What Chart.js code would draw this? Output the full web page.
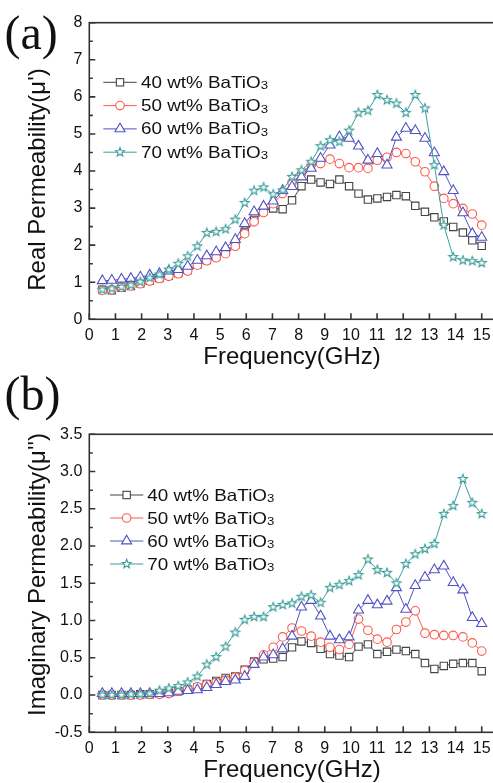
<!DOCTYPE html>
<html>
<head>
<meta charset="utf-8">
<script src="https://cdn.jsdelivr.net/npm/chart.js@4"></script>
<style>
html,body{margin:0;padding:0;background:#fff;}
body{width:493px;height:783px;overflow:hidden;position:relative;}
canvas{position:absolute;left:0;}
#overlay{position:absolute;left:0;top:0;width:493px;height:783px;pointer-events:none;}
</style>
</head>
<body>
<canvas id="c1" width="520" height="392" style="top:0px"></canvas>
<canvas id="c2" width="520" height="413" style="top:392px"></canvas>
<svg id="overlay" xmlns="http://www.w3.org/2000/svg" width="493" height="783" viewBox="0 0 493 783"></svg>
<script>
// ---------------- data ----------------
const freqGHz = [0.5, 0.86, 1.23, 1.59, 1.95, 2.31, 2.68, 3.04, 3.4, 3.76, 4.13, 4.49, 4.85, 5.21, 5.58, 5.94, 6.3, 6.66, 7.03, 7.39, 7.75, 8.11, 8.48, 8.84, 9.2, 9.56, 9.93, 10.29, 10.65, 11.01, 11.38, 11.74, 12.1, 12.46, 12.83, 13.19, 13.55, 13.91, 14.28, 14.64, 15];

const seriesNames = ['40 wt% BaTiO3', '50 wt% BaTiO3', '60 wt% BaTiO3', '70 wt% BaTiO3'];

const realPerm40 = [0.80, 0.78, 0.85, 0.90, 0.97, 1.04, 1.11, 1.18, 1.25, 1.33, 1.48, 1.60, 1.70, 1.82, 2.02, 2.36, 2.68, 2.92, 2.99, 2.97, 3.21, 3.59, 3.77, 3.69, 3.65, 3.77, 3.59, 3.39, 3.23, 3.26, 3.30, 3.35, 3.32, 3.06, 2.90, 2.75, 2.64, 2.49, 2.34, 2.13, 1.98];
const realPerm50 = [0.78, 0.80, 0.86, 0.90, 0.96, 1.03, 1.10, 1.16, 1.23, 1.30, 1.46, 1.58, 1.66, 1.77, 1.97, 2.31, 2.63, 2.88, 3.12, 3.39, 3.69, 3.93, 4.16, 4.20, 4.32, 4.20, 4.09, 4.09, 4.07, 4.29, 4.37, 4.50, 4.47, 4.25, 3.98, 3.59, 3.26, 3.12, 2.99, 2.84, 2.54];
const realPerm60 = [1.04, 1.05, 1.08, 1.10, 1.14, 1.19, 1.23, 1.30, 1.34, 1.43, 1.59, 1.71, 1.82, 1.93, 2.15, 2.58, 2.90, 3.05, 3.19, 3.47, 3.58, 3.84, 4.07, 4.34, 4.70, 4.92, 4.88, 4.67, 4.29, 4.47, 4.16, 4.91, 5.15, 5.09, 4.88, 4.49, 3.98, 3.47, 2.87, 2.31, 2.21];
const realPerm70 = [0.80, 0.83, 0.87, 0.92, 1.01, 1.12, 1.21, 1.34, 1.50, 1.70, 1.97, 2.33, 2.36, 2.43, 2.69, 3.14, 3.47, 3.56, 3.37, 3.48, 3.84, 4.02, 4.25, 4.67, 4.83, 4.79, 5.09, 5.57, 5.63, 6.05, 5.91, 5.82, 5.57, 6.05, 5.69, 4.16, 2.54, 1.68, 1.59, 1.57, 1.52];

const imagPerm40 = [0.00, 0.00, 0.00, 0.00, 0.01, 0.01, 0.02, 0.03, 0.05, 0.07, 0.10, 0.15, 0.19, 0.23, 0.25, 0.34, 0.45, 0.48, 0.49, 0.51, 0.64, 0.72, 0.70, 0.62, 0.55, 0.53, 0.51, 0.65, 0.68, 0.55, 0.58, 0.61, 0.59, 0.55, 0.43, 0.35, 0.39, 0.42, 0.43, 0.43, 0.32];
const imagPerm50 = [0.00, 0.00, 0.00, 0.00, 0.00, 0.01, 0.01, 0.02, 0.05, 0.08, 0.11, 0.14, 0.17, 0.20, 0.24, 0.33, 0.44, 0.54, 0.64, 0.78, 0.90, 0.86, 0.79, 0.71, 0.64, 0.61, 0.68, 1.02, 0.87, 0.75, 0.71, 0.88, 0.98, 1.13, 0.83, 0.81, 0.80, 0.80, 0.78, 0.70, 0.59];
const imagPerm60 = [0.02, 0.02, 0.02, 0.02, 0.02, 0.02, 0.02, 0.03, 0.05, 0.06, 0.07, 0.10, 0.14, 0.18, 0.20, 0.25, 0.41, 0.51, 0.54, 0.62, 0.79, 1.18, 1.27, 1.06, 0.79, 0.74, 0.78, 1.14, 1.27, 1.21, 1.26, 1.44, 1.15, 1.47, 1.58, 1.68, 1.73, 1.51, 1.41, 1.04, 0.96];
const imagPerm70 = [0.00, 0.00, 0.00, 0.01, 0.01, 0.02, 0.06, 0.09, 0.12, 0.17, 0.25, 0.41, 0.51, 0.65, 0.84, 1.01, 1.05, 1.05, 1.18, 1.21, 1.23, 1.32, 1.34, 1.24, 1.44, 1.48, 1.53, 1.61, 1.82, 1.68, 1.64, 1.50, 1.76, 1.89, 1.96, 2.03, 2.43, 2.54, 2.90, 2.58, 2.43];

const panelLabels = ['(a)', '(b)'];
const yTitles = ["Real Permeability(\u03BC')", "Imaginary Permeability(\u03BC'')"];
const xTitle = 'Frequency(GHz)';

// ---------------- styles ----------------
const FONT = '"Liberation Sans", Arial, Helvetica, sans-serif';
Chart.defaults.font.family = FONT;
const colors = ['#444444', '#ff5a4c', '#5252c6', '#3c9e9b'];

function starCanvas(color, R, r) {
  const s = Math.ceil(R * 2 + 4);
  const c = document.createElement('canvas');
  c.width = s; c.height = s;
  const g = c.getContext('2d');
  g.translate(s / 2, s / 2);
  g.beginPath();
  for (let k = 0; k < 10; k++) {
    const rad = k % 2 ? r : R;
    const ang = -Math.PI / 2 + k * Math.PI / 5;
    g.lineTo(rad * Math.cos(ang), rad * Math.sin(ang));
  }
  g.closePath();
  g.fillStyle = '#fff'; g.fill();
  g.strokeStyle = color; g.lineWidth = 1.1; g.stroke();
  return c;
}
const STAR_R = 4.7, STAR_r = 2.0;
const pointStyles = ['rect', 'circle', 'triangle', starCanvas(colors[3], STAR_R, STAR_r)];
const pointRadii = [5.2, 4.3, 5.8, 5];

const framePlugin = {
  id: 'frame',
  afterDatasetsDraw(chart, args, opts) {
    const {ctx, chartArea: a, scales: {x, y}} = chart;
    ctx.save();
    ctx.strokeStyle = opts.color;
    ctx.lineWidth = opts.width;
    ctx.strokeRect(a.left, a.top, a.right - a.left, a.bottom - a.top);
    ctx.beginPath();
    x.ticks.forEach(t => {
      const px = x.getPixelForValue(t.value);
      ctx.moveTo(px, a.bottom); ctx.lineTo(px, a.bottom - opts.major);
    });
    y.ticks.forEach((t, i) => {
      const py = y.getPixelForValue(t.value);
      ctx.moveTo(a.left, py); ctx.lineTo(a.left + opts.major, py);
      if (i < y.ticks.length - 1) {
        const pm = y.getPixelForValue((t.value + y.ticks[i + 1].value) / 2);
        ctx.moveTo(a.left, pm); ctx.lineTo(a.left + opts.minor, pm);
      }
    });
    ctx.stroke();
    ctx.restore();
  }
};

function makeChart(id, series, yMin, yMax, yStep, yFmt, padTop) {
  return new Chart(document.getElementById(id), {
    type: 'line',
    data: {
      datasets: series.map((vals, k) => ({
        label: seriesNames[k],
        data: freqGHz.map((f, i) => ({x: f, y: vals[i]})),
        borderColor: colors[k],
        backgroundColor: '#fff',
        borderWidth: 1,
        pointStyle: pointStyles[k],
        pointRadius: pointRadii[k],
        pointHoverRadius: pointRadii[k],
        pointBorderWidth: 1.1,
        pointBorderColor: colors[k],
        pointBackgroundColor: '#fff',
        tension: 0,
        order: 4 - k
      }))
    },
    options: {
      responsive: false,
      animation: false,
      devicePixelRatio: 1,
      layout: {padding: {left: 0, top: padTop, right: 25.2, bottom: 0}},
      plugins: {
        legend: {display: false},
        tooltip: {enabled: false},
        frame: {color: '#333', width: 1.6, major: 6, minor: 3.5}
      },
      scales: {
        x: {
          type: 'linear', min: 0, max: 15.5,
          afterFit: s => { s.height = 72.7; },
          ticks: {stepSize: 1, includeBounds: false, autoSkip: false, maxRotation: 0, padding: 7, color: '#111', font: {size: 16}},
          grid: {display: false, drawTicks: false},
          border: {display: false},
          title: {display: true, text: xTitle, color: '#111', font: {size: 24}, padding: {top: 0, bottom: 20}}
        },
        y: {
          min: yMin, max: yMax,
          afterFit: s => { s.width = 89.3; },
          ticks: {stepSize: yStep, includeBounds: false, callback: yFmt, padding: 7, color: '#111', font: {size: 16}},
          grid: {display: false, drawTicks: false},
          border: {display: false}
        }
      }
    },
    plugins: [framePlugin]
  });
}

makeChart('c1', [realPerm40, realPerm50, realPerm60, realPerm70], 0, 8, 1, v => String(v), 22.7);
makeChart('c2', [imagPerm40, imagPerm50, imagPerm60, imagPerm70], -0.5, 3.5, 0.5, v => v.toFixed(1), 42.3);

// ---------------- overlay: panel labels, y titles, legends ----------------
function markerSVG(k, cx, cy) {
  const c = colors[k];
  const st = `fill="#fff" stroke="${c}" stroke-width="1.1"`;
  if (k === 0) { const h = 5.2 * Math.SQRT1_2; return `<rect x="${cx - h}" y="${cy - h}" width="${2 * h}" height="${2 * h}" ${st}/>`; }
  if (k === 1) return `<circle cx="${cx}" cy="${cy}" r="4.3" ${st}/>`;
  if (k === 2) { const r = 5.8; return `<polygon points="${cx},${cy - r} ${cx + 0.866 * r},${cy + 0.5 * r} ${cx - 0.866 * r},${cy + 0.5 * r}" ${st}/>`; }
  const pts = [];
  for (let i = 0; i < 10; i++) {
    const rad = i % 2 ? STAR_r : STAR_R;
    const ang = -Math.PI / 2 + i * Math.PI / 5;
    pts.push((cx + rad * Math.cos(ang)).toFixed(2) + ',' + (cy + rad * Math.sin(ang)).toFixed(2));
  }
  return `<polygon points="${pts.join(' ')}" ${st}/>`;
}
function legendSVG(x0, x1, textX, cy0, dy) {
  let s = '';
  seriesNames.forEach((name, k) => {
    const cy = cy0 + k * dy;
    s += `<line x1="${x0}" y1="${cy}" x2="${x1}" y2="${cy}" stroke="${colors[k]}" stroke-width="1"/>`;
    s += markerSVG(k, (x0 + x1) / 2, cy);
    const main = name.slice(0, -1), sub = name.slice(-1);
    s += `<text x="${textX}" y="${cy + 5.5}" font-family='${FONT}' font-size="16.5" fill="#111" textLength="127" lengthAdjust="spacingAndGlyphs">${main}<tspan font-size="11.5" dy="1.5">${sub}</tspan></text>`;
  });
  return s;
}
let svg = '';
svg += `<text x="4.5" y="49" font-family='"Liberation Serif", "Times New Roman", serif' font-size="48" fill="#111">${panelLabels[0]}</text>`;
svg += `<text x="4.5" y="410" font-family='"Liberation Serif", "Times New Roman", serif' font-size="48" fill="#111">${panelLabels[1]}</text>`;
svg += `<text transform="translate(45,179.5) rotate(-90)" text-anchor="middle" font-family='${FONT}' font-size="24" fill="#111">${yTitles[0]}</text>`;
svg += `<text transform="translate(45,574.5) rotate(-90)" text-anchor="middle" font-family='${FONT}' font-size="24" fill="#111">${yTitles[1]}</text>`;
svg += legendSVG(103.3, 136.7, 141, 82.3, 23.3);
svg += legendSVG(110, 143.3, 147.3, 495, 23);
document.getElementById('overlay').innerHTML = svg;
</script>
</body>
</html>
